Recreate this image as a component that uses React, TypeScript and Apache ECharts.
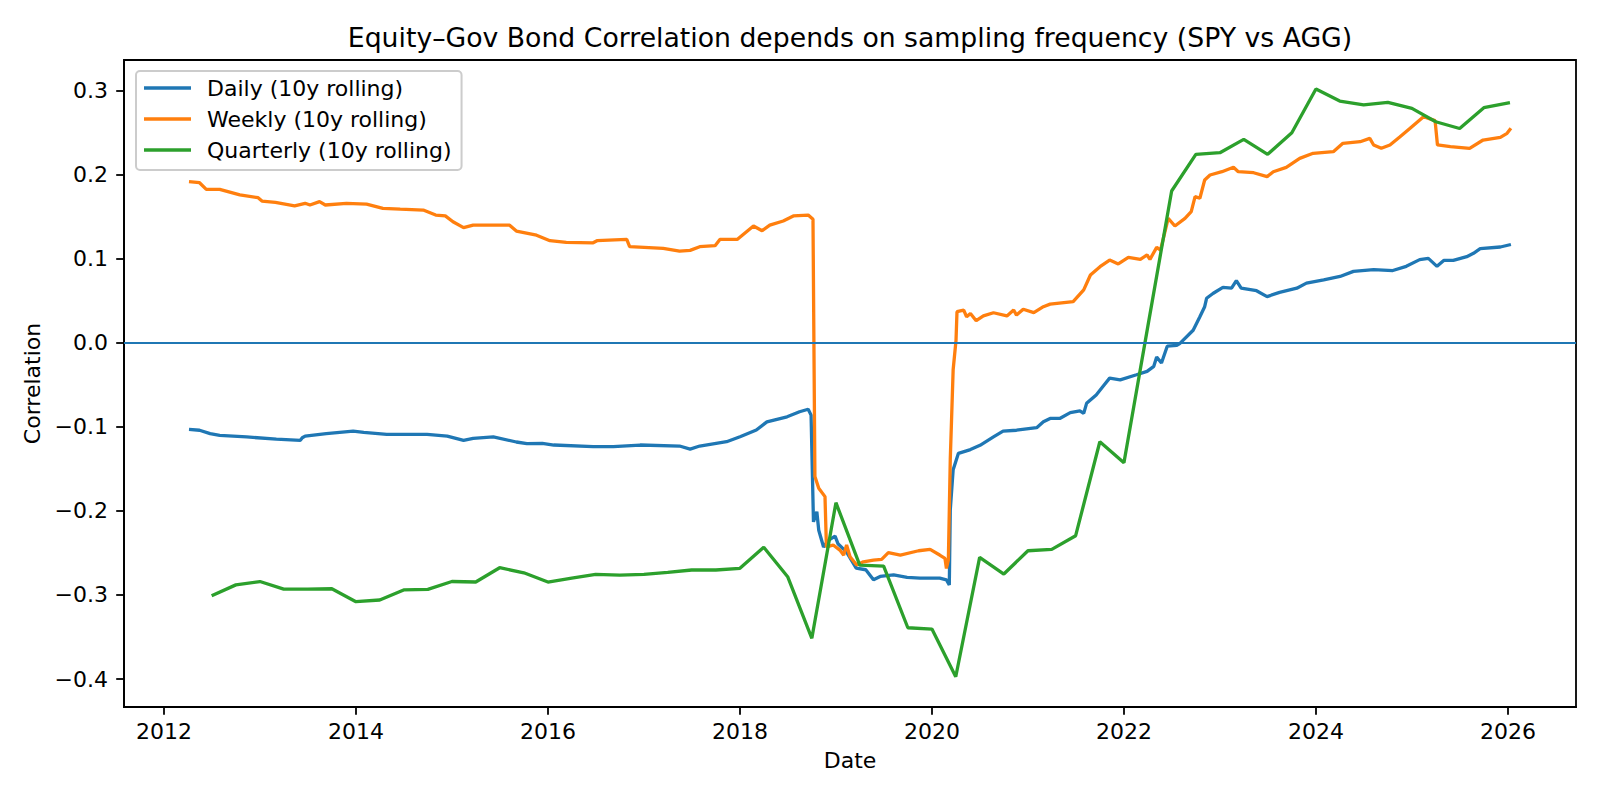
import React, { useEffect, useRef } from "react";
import * as echarts from "echarts";

const FONT = "DejaVu Sans";

const seriesNames = ["Daily (10y rolling)", "Weekly (10y rolling)", "Quarterly (10y rolling)"];
const seriesColors = ["#1f77b4", "#ff7f0e", "#2ca02c"];

const xTickValues = [2012, 2014, 2016, 2018, 2020, 2022, 2024, 2026];
const yTickValues = [-0.4, -0.3, -0.2, -0.1, 0.0, 0.1, 0.2, 0.3];

// decimal years
const dailyDates = [
  2012.26, 2012.37, 2012.48, 2012.58, 2012.86, 2013.17, 2013.42, 2013.44, 2013.47, 2013.69,
  2013.97, 2014.08, 2014.32, 2014.74, 2014.95, 2015.12, 2015.22, 2015.43, 2015.67, 2015.78,
  2015.94, 2016.06, 2016.47, 2016.68, 2016.96, 2017.37, 2017.48, 2017.58, 2017.86, 2018.0,
  2018.17, 2018.28, 2018.49, 2018.62, 2018.71, 2018.74, 2018.765, 2018.8, 2018.82, 2018.87,
  2018.92, 2018.99, 2019.02, 2019.11, 2019.21, 2019.31, 2019.39, 2019.46, 2019.6, 2019.74,
  2019.875, 2020.08, 2020.15, 2020.18, 2020.19, 2020.22, 2020.275, 2020.4, 2020.5, 2020.64,
  2020.74, 2020.88, 2021.09, 2021.16, 2021.23, 2021.33, 2021.44, 2021.54, 2021.58, 2021.61,
  2021.71, 2021.78, 2021.85, 2021.96, 2022.13, 2022.24, 2022.31, 2022.34, 2022.39, 2022.45,
  2022.55, 2022.58, 2022.72, 2022.79, 2022.84, 2022.86, 2022.93, 2023.03, 2023.12, 2023.17,
  2023.22, 2023.38, 2023.49, 2023.62, 2023.8, 2023.9, 2024.08, 2024.25, 2024.39, 2024.6,
  2024.8, 2024.94, 2025.08, 2025.17, 2025.26, 2025.33, 2025.43, 2025.57, 2025.64, 2025.71,
  2025.92, 2026.03,
];
const dailyValues = [
  -0.103, -0.104, -0.108, -0.11, -0.112, -0.1145, -0.116, -0.113, -0.111, -0.108,
  -0.105, -0.1065, -0.109, -0.109, -0.111, -0.116, -0.1136, -0.112, -0.118, -0.12,
  -0.1196, -0.1216, -0.1236, -0.1236, -0.1216, -0.1228, -0.1264, -0.1228, -0.1177, -0.1117,
  -0.1038, -0.094, -0.088, -0.082, -0.079, -0.086, -0.213, -0.201, -0.223, -0.243,
  -0.235, -0.23, -0.239, -0.249, -0.268, -0.27, -0.282, -0.278, -0.276, -0.279,
  -0.28, -0.28, -0.282, -0.288, -0.199, -0.151, -0.1315, -0.127, -0.122, -0.112,
  -0.105, -0.104, -0.101, -0.094, -0.09, -0.09, -0.083, -0.081, -0.084, -0.072,
  -0.062, -0.052, -0.042, -0.044, -0.038, -0.034, -0.028, -0.017, -0.024, -0.004,
  -0.003, -0.001, 0.015, 0.031, 0.043, 0.053, 0.059, 0.066, 0.065, 0.074,
  0.065, 0.062, 0.055, 0.06, 0.065, 0.071, 0.075, 0.079, 0.085, 0.087,
  0.086, 0.091, 0.099, 0.1005, 0.091, 0.098, 0.098, 0.1025, 0.1065, 0.112,
  0.114, 0.117,
];

const weeklyDates = [
  2012.26, 2012.37, 2012.44, 2012.58, 2012.79, 2012.98, 2013.02, 2013.16, 2013.36, 2013.47,
  2013.52, 2013.62, 2013.68, 2013.9, 2014.11, 2014.28, 2014.46, 2014.7, 2014.83, 2014.93,
  2015.01, 2015.12, 2015.22, 2015.6, 2015.67, 2015.88, 2016.02, 2016.19, 2016.47, 2016.51,
  2016.82, 2016.85, 2017.2, 2017.37, 2017.48, 2017.58, 2017.74, 2017.79, 2017.97, 2018.14,
  2018.23, 2018.31, 2018.45, 2018.555, 2018.71, 2018.76, 2018.78, 2018.82, 2018.885, 2018.9,
  2018.97, 2019.04, 2019.08, 2019.11, 2019.146, 2019.215, 2019.285, 2019.39, 2019.475, 2019.545,
  2019.67, 2019.86, 2019.98, 2020.08, 2020.135, 2020.15, 2020.17, 2020.19, 2020.22, 2020.25,
  2020.26, 2020.33, 2020.36, 2020.4, 2020.46, 2020.535, 2020.64, 2020.78, 2020.85, 2020.88,
  2020.95, 2021.06, 2021.16, 2021.23, 2021.47, 2021.58, 2021.65, 2021.75, 2021.85, 2021.94,
  2022.045, 2022.17, 2022.24, 2022.27, 2022.34, 2022.38, 2022.46, 2022.53, 2022.635, 2022.7,
  2022.74, 2022.79, 2022.84, 2022.896, 2023.02, 2023.14, 2023.19, 2023.35, 2023.49, 2023.555,
  2023.69, 2023.83, 2023.97, 2024.18, 2024.28, 2024.46, 2024.56, 2024.6, 2024.68, 2024.77,
  2024.875, 2024.98, 2025.12, 2025.24, 2025.265, 2025.4, 2025.6, 2025.74, 2025.92, 2025.99,
  2026.03,
];
const weeklyValues = [
  0.1917, 0.1905, 0.1826, 0.1826, 0.176, 0.1727, 0.1687, 0.167, 0.163, 0.166,
  0.164, 0.168, 0.164, 0.166, 0.165, 0.16, 0.159, 0.158, 0.152, 0.151,
  0.144, 0.137, 0.14, 0.14, 0.133, 0.128, 0.1215, 0.1196, 0.119, 0.1215,
  0.123, 0.1144, 0.1124, 0.109, 0.11, 0.1144, 0.1156, 0.123, 0.123, 0.139,
  0.1334, 0.14, 0.145, 0.151, 0.152, 0.147, -0.159, -0.173, -0.183, -0.243,
  -0.2406, -0.2466, -0.2526, -0.2406, -0.2545, -0.2644, -0.2605, -0.2585, -0.2577, -0.2497,
  -0.2525, -0.2474, -0.2458, -0.2525, -0.2565, -0.2684, -0.2585, -0.139, -0.032, 0.0033,
  0.037, 0.039, 0.031, 0.035, 0.0263, 0.032, 0.0358, 0.032, 0.039, 0.033,
  0.04, 0.036, 0.043, 0.046, 0.049, 0.063, 0.0807, 0.0906, 0.0985, 0.0938,
  0.1017, 0.0993, 0.1045, 0.0993, 0.1136, 0.1104, 0.148, 0.139, 0.148, 0.156,
  0.1739, 0.172, 0.1937, 0.1997, 0.2036, 0.2088, 0.2036, 0.2024, 0.1977, 0.2036,
  0.2088, 0.2195, 0.2255, 0.2274, 0.2374, 0.2393, 0.2433, 0.2354, 0.2314, 0.2354,
  0.2452, 0.2552, 0.269, 0.2643, 0.2354, 0.2334, 0.2314, 0.2413, 0.2445, 0.2493,
  0.2552,
];

const quarterlyDates = [
  2012.496, 2012.748, 2012.999, 2013.247, 2013.496, 2013.748, 2013.999, 2014.247, 2014.496, 2014.748,
  2014.999, 2015.247, 2015.496, 2015.748, 2015.999, 2016.247, 2016.496, 2016.748, 2016.999, 2017.247,
  2017.496, 2017.748, 2017.999, 2018.247, 2018.496, 2018.748, 2018.999, 2019.247, 2019.496, 2019.748,
  2019.999, 2020.247, 2020.496, 2020.748, 2020.999, 2021.247, 2021.496, 2021.748, 2021.999, 2022.247,
  2022.496, 2022.748, 2022.999, 2023.247, 2023.496, 2023.748, 2023.999, 2024.247, 2024.496, 2024.748,
  2024.999, 2025.247, 2025.496, 2025.748, 2026.02,
];
const quarterlyValues = [
  -0.301, -0.288, -0.284, -0.293, -0.293, -0.2926, -0.308, -0.306, -0.294, -0.2933,
  -0.284, -0.2846, -0.2676, -0.2736, -0.2846, -0.28, -0.2755, -0.2763, -0.2755, -0.273,
  -0.2703, -0.2703, -0.2683, -0.2433, -0.2783, -0.3516, -0.1902, -0.2644, -0.2656, -0.339,
  -0.3406, -0.3973, -0.2553, -0.2751, -0.2474, -0.2458, -0.2295, -0.1177, -0.1426, 0.019,
  0.1806, 0.2243, 0.2262, 0.2421, 0.2243, 0.25, 0.302, 0.2877, 0.283, 0.2862,
  0.279, 0.263, 0.255, 0.2797, 0.2857,
];

const zip = (xs: number[], ys: number[]) => xs.map((x, i) => [x, ys[i]]);

export default function App() {
  const ref = useRef<HTMLDivElement>(null);

  useEffect(() => {
    if (!ref.current) return;
    const chart = echarts.init(ref.current, undefined, { renderer: "svg" });
    const lineSeries = [
      zip(dailyDates, dailyValues),
      zip(weeklyDates, weeklyValues),
      zip(quarterlyDates, quarterlyValues),
    ].map((data, i) => ({
      name: seriesNames[i],
      type: "line",
      data,
      showSymbol: false,
      symbol: "none",
      lineStyle: { color: seriesColors[i], width: 3.3 },
      itemStyle: { color: seriesColors[i] },
      z: 2 + i,
      ...(i === 2
        ? {
            markLine: {
              silent: true,
              symbol: "none",
              label: { show: false },
              lineStyle: { color: "#1f77b4", width: 1.8, type: "solid" },
              data: [{ yAxis: 0 }],
            },
          }
        : {}),
    }));

    chart.setOption({
      animation: false,
      backgroundColor: "#ffffff",
      textStyle: { fontFamily: FONT },
      title: {
        text: "Equity\u2013Gov Bond Correlation depends on sampling frequency (SPY vs AGG)",
        left: 850,
        top: 24,
        textAlign: "center",
        padding: 0,
        textStyle: { fontSize: 26.7, fontWeight: "normal", color: "#000", fontFamily: FONT },
      },
      legend: {
        orient: "vertical",
        left: 136,
        top: 71,
        icon: "rect",
        itemWidth: 47,
        itemHeight: 3.3,
        itemGap: 9,
        padding: [6, 10, 9, 8],
        borderColor: "#cccccc",
        borderWidth: 2,
        borderRadius: 4,
        backgroundColor: "rgba(255,255,255,0.8)",
        textStyle: { fontSize: 22, color: "#000", fontFamily: FONT, lineHeight: 22, padding: [0, 0, 0, 11] },
        data: seriesNames,
      },
      grid: {
        left: 124,
        right: 24,
        top: 60,
        bottom: 93,
        show: true,
        borderColor: "#000",
        borderWidth: 1.8,
        backgroundColor: "transparent",
      },
      xAxis: {
        type: "value",
        min: 2011.583,
        max: 2026.708,
        name: "Date",
        nameLocation: "middle",
        nameGap: 42,
        nameTextStyle: { fontSize: 22, color: "#000", fontFamily: FONT },
        axisLine: { show: true, onZero: false, lineStyle: { color: "#000", width: 1.8 } },
        axisTick: { show: true, length: 7.8, lineStyle: { color: "#000", width: 1.8 }, customValues: xTickValues },
        axisLabel: {
          fontSize: 22,
          color: "#000",
          fontFamily: FONT,
          margin: 13,
          customValues: xTickValues,
          formatter: (v: number) => String(Math.round(v)),
        },
        splitLine: { show: false },
      },
      yAxis: {
        type: "value",
        min: -0.4333,
        max: 0.3365,
        name: "Correlation",
        nameLocation: "middle",
        nameGap: 73,
        nameTextStyle: { fontSize: 22, color: "#000", fontFamily: FONT },
        axisLine: { show: true, onZero: false, lineStyle: { color: "#000", width: 1.8 } },
        axisTick: { show: true, length: 7.8, lineStyle: { color: "#000", width: 1.8 }, customValues: yTickValues },
        axisLabel: {
          fontSize: 22,
          color: "#000",
          fontFamily: FONT,
          margin: 16,
          customValues: yTickValues,
          formatter: (v: number) => (v < -1e-9 ? "\u2212" : "") + Math.abs(v).toFixed(1),
        },
        splitLine: { show: false },
      },
      series: lineSeries,
    });
    return () => chart.dispose();
  }, []);

  return (
    <div
      ref={ref}
      style={{ position: "fixed", left: 0, top: 0, width: 1600, height: 800, background: "#fff" }}
    />
  );
}
